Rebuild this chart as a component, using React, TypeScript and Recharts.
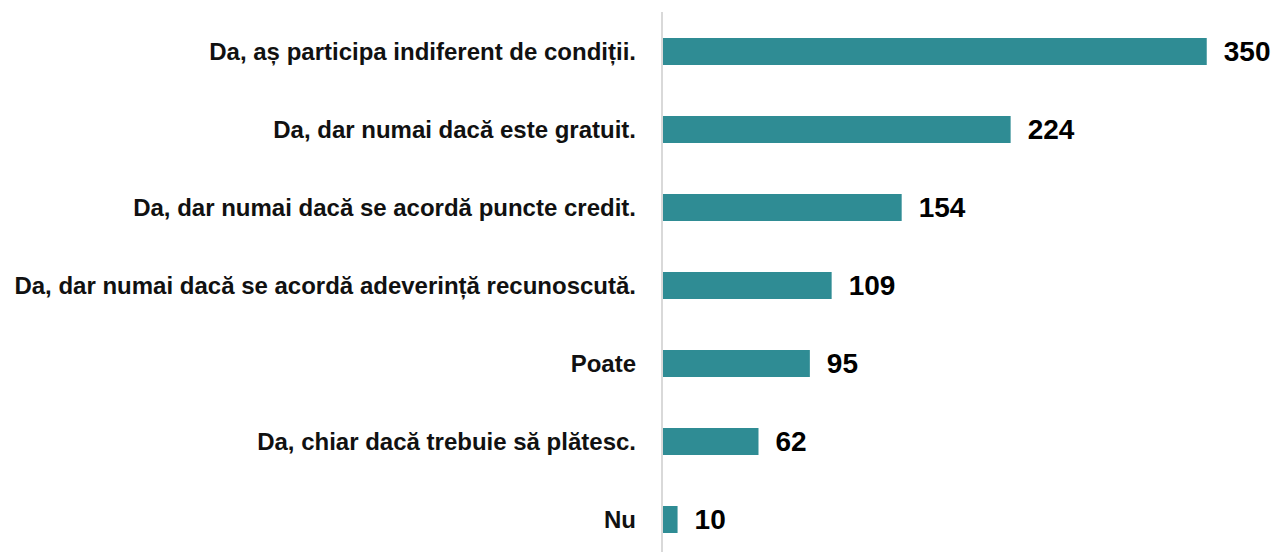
import React from "react";
import { BarChart, Bar, XAxis, YAxis, LabelList } from "recharts";

const categories = [
  "Da, aș participa indiferent de condiții.",
  "Da, dar numai dacă este gratuit.",
  "Da, dar numai dacă se acordă puncte credit.",
  "Da, dar numai dacă se acordă adeverință recunoscută.",
  "Poate",
  "Da, chiar dacă trebuie să plătesc.",
  "Nu",
];
const values = [350, 224, 154, 109, 95, 62, 10];

const data = categories.map((c, i) => ({ name: c, value: values[i] }));

const FONT = "'Liberation Sans', Arial, sans-serif";

export default function App() {
  return (
    <div style={{ position: "absolute", left: 0, top: 0, width: 1275, height: 552, overflow: "hidden" }}>
      <BarChart
        width={1275}
        height={552}
        data={data}
        layout="vertical"
        margin={{ top: 12, right: 6, bottom: -6, left: 0 }}
        barCategoryGap={0}
      >
        <XAxis type="number" hide domain={[0, 390]} />
        <YAxis
          type="category"
          dataKey="name"
          width={662}
          tickLine={false}
          tickSize={0}
          tickMargin={26}
          axisLine={{ stroke: "#d9d9d9", strokeWidth: 2 }}
          tick={{ fontFamily: FONT, fontSize: 24, fontWeight: 700, fill: "#111" }}
          interval={0}
        />
        <Bar dataKey="value" fill="#2f8c94" barSize={27} isAnimationActive={false}>
          <LabelList
            dataKey="value"
            position="right"
            offset={17}
            style={{ fontFamily: FONT, fontSize: 28, fontWeight: 700, fill: "#000" }}
          />
        </Bar>
      </BarChart>
    </div>
  );
}
